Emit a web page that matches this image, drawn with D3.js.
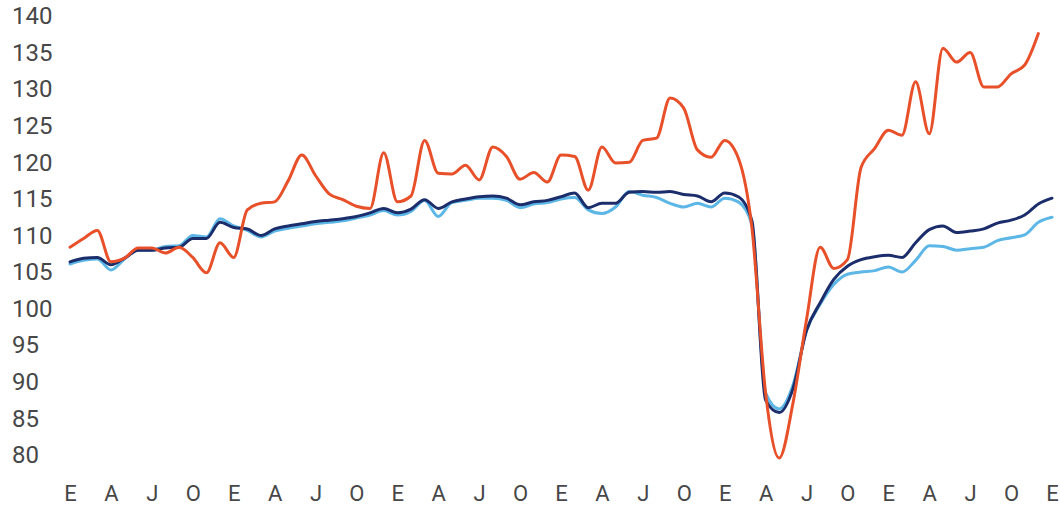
<!DOCTYPE html>
<html>
<head>
<meta charset="utf-8">
<script src="https://cdn.jsdelivr.net/npm/d3@7"></script>
<style>
  html, body { margin: 0; padding: 0; background: #fff; }
  svg { display: block; }
  .tick text { font-family: Roboto, "Noto Sans", sans-serif; fill: #474747; }
</style>
</head>
<body>
<svg id="chart" width="1060" height="506"></svg>
<script>
// Quarter tick labels (E = enero, A = abril, J = julio, O = octubre)
const quarterLabels = ["E","A","J","O","E","A","J","O","E","A","J","O","E","A","J","O","E","A","J","O","E","A","J","O","E"];
const yTicks = [80,85,90,95,100,105,110,115,120,125,130,135,140];

// Monthly series (index 0 = first "E")
const seriesRed = [
  108.4,109.6,110.7,106.4,106.9,108.3,108.3,107.6,108.4,107.0,104.9,109.0,
  107.0,113.5,114.4,114.6,117.5,121.0,118.2,115.7,114.9,114.0,113.7,121.3,
  114.6,115.4,123.0,118.5,118.4,119.6,117.6,122.1,120.8,117.7,118.6,117.3,
  121.0,120.8,116.2,122.1,119.9,120.0,123.0,123.3,128.8,127.4,121.7,120.7,
  123.0,120.6,111.0,88.5,79.6,87.0,98.5,108.4,105.5,106.7,119.3,121.9,
  124.4,123.7,131.0,123.9,135.6,133.7,135.0,130.3,130.3,132.1,133.3,137.6
];
const seriesNavy = [
  106.4,106.9,107.0,106.0,106.9,108.0,108.0,108.3,108.4,109.6,109.6,111.8,
  111.1,110.9,110.0,110.9,111.3,111.6,111.9,112.1,112.3,112.6,113.1,113.7,
  113.1,113.6,114.9,113.7,114.6,115.0,115.3,115.4,115.1,114.2,114.6,114.8,
  115.3,115.8,113.8,114.4,114.4,115.9,116.0,115.9,116.0,115.6,115.4,114.6,
  115.8,115.3,112.0,87.5,85.8,89.0,97.0,100.8,104.0,105.8,106.7,107.1,
  107.3,107.0,109.0,110.8,111.3,110.4,110.6,110.9,111.7,112.1,112.8,114.3,
  115.1
];
const seriesLight = [
  106.1,106.6,106.8,105.3,106.8,108.0,108.0,108.5,108.6,110.0,109.8,112.3,
  111.3,110.7,109.8,110.6,111.0,111.3,111.6,111.8,112.0,112.4,112.8,113.4,
  112.8,113.3,114.8,112.6,114.5,114.8,115.1,115.1,114.8,113.8,114.3,114.5,
  115.0,115.2,113.5,113.0,113.9,116.0,115.5,115.2,114.4,113.9,114.4,113.9,
  115.1,114.6,111.5,88.5,86.3,89.5,97.0,100.6,103.3,104.7,105.0,105.2,
  105.7,105.0,106.6,108.6,108.5,108.0,108.2,108.4,109.3,109.7,110.1,111.8,
  112.5
];

const svg = d3.select("#chart");
const x = d3.scaleLinear().domain([0, 72]).range([70, 1052]);
const y = d3.scaleLinear().domain([80, 140]).range([455, 16]);

// Y axis labels (left aligned)
const yAxis = svg.append("g")
  .attr("transform", "translate(12,0)")
  .call(d3.axisLeft(y).tickValues(yTicks).tickSize(0).tickPadding(0).tickFormat(d3.format("d")));
yAxis.select(".domain").remove();
yAxis.selectAll("text")
  .attr("x", 0)
  .attr("text-anchor", "start")
  .style("font-size", "24px");

// X axis labels
const xAxis = svg.append("g")
  .attr("transform", "translate(0,485)")
  .call(d3.axisBottom(x).tickValues(d3.range(0, 73, 3)).tickSize(0).tickPadding(0)
    .tickFormat((d, i) => quarterLabels[i]));
xAxis.select(".domain").remove();
xAxis.selectAll("text").style("font-size", "22px");

const line = d3.line()
  .x((d, i) => x(i))
  .y(d => y(d))
  .curve(d3.curveMonotoneX);

const series = [
  { data: seriesLight, color: "#5cb6e6" },
  { data: seriesNavy, color: "#1c2d6b" },
  { data: seriesRed, color: "#e8502a" }
];

svg.selectAll("path.series")
  .data(series)
  .enter().append("path")
  .attr("class", "series")
  .attr("fill", "none")
  .attr("stroke", d => d.color)
  .attr("stroke-width", 3)
  .attr("stroke-linejoin", "round")
  .attr("stroke-linecap", "round")
  .attr("d", d => line(d.data));
</script>
</body>
</html>
